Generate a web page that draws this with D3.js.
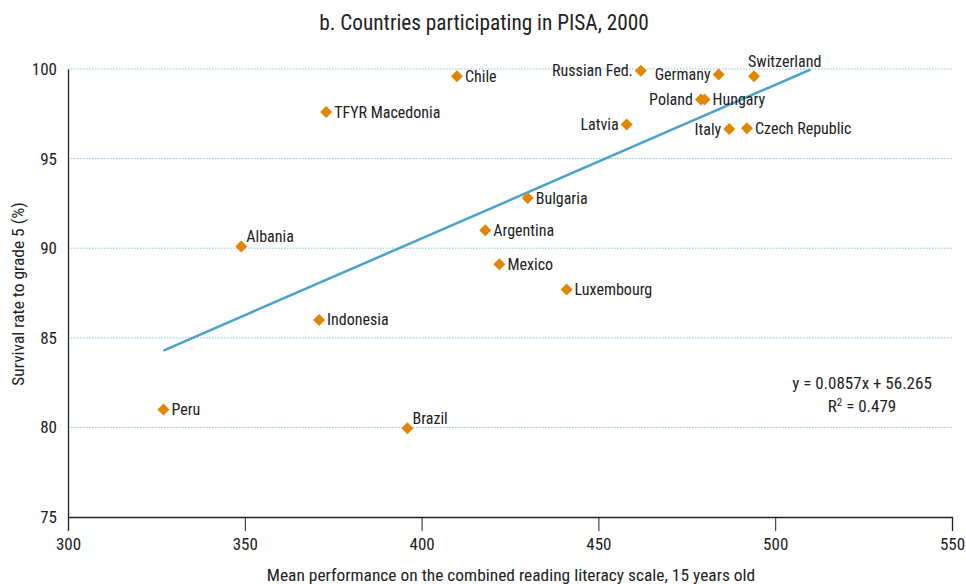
<!DOCTYPE html>
<html><head><meta charset="utf-8">
<script src="https://cdn.jsdelivr.net/npm/d3@7"></script>
<style>
body{margin:0;background:#fff;}
text{font-family:"Roboto Condensed","Roboto",sans-serif;font-stretch:condensed;fill:#222;}
</style></head><body>
<svg id="c" width="966" height="584"></svg>
<script>
const countries = ["Peru","Albania","Indonesia","TFYR Macedonia","Brazil","Chile","Argentina","Mexico","Bulgaria","Luxembourg","Latvia","Russian Fed.","Germany","Poland","Hungary","Italy","Czech Republic","Switzerland"];
const reading = [327,349,371,373,396,410,418,422,430,441,458,462,484,479,480,487,492,494];
const survival = [81.0,90.1,86.0,97.6,79.95,99.6,91.0,89.1,92.8,87.7,96.9,99.9,99.7,98.3,98.3,96.65,96.7,99.6];
const labelSide = ["r","tr","r","r","tr","r","r","r","r","r","l","l","l","l","r","l","r","t"];
const xTicks = [300,350,400,450,500,550];
const yTicks = [75,80,85,90,95,100];
const slope = 0.0857, intercept = 56.265, r2 = "0.479";
const trendX = [327,510];

const svg = d3.select("#c");
const W=966,H=584;
const m={l:68,r:14,t:69,b:67};
const x=d3.scaleLinear().domain([300,550]).range([m.l,W-m.r]);
const y=d3.scaleLinear().domain([75,100]).range([H-m.b,m.t]);

svg.append("g").selectAll("line").data(yTicks.filter(d=>d>75)).join("line")
 .attr("x1",x(300)).attr("x2",x(550)).attr("y1",d=>y(d)).attr("y2",d=>y(d))
 .attr("stroke","#8fbfd9").attr("stroke-width",1).attr("stroke-dasharray","1.5,1.5");

const xa=svg.append("g").attr("transform",`translate(0,${y(75)})`)
 .call(d3.axisBottom(x).tickValues(xTicks).tickSize(14).tickPadding(7));
xa.select(".domain").attr("stroke","#222").attr("stroke-width",1.3);
xa.selectAll(".tick line").attr("stroke","#222");
xa.selectAll("text").attr("font-size",17).attr("fill","#222");

const ya=svg.append("g").attr("transform",`translate(${x(300)},0)`)
 .call(d3.axisLeft(y).tickValues(yTicks).tickSize(0).tickPadding(11));
ya.select(".domain").attr("stroke","#222").attr("stroke-width",1.3);
ya.selectAll("text").attr("font-size",17).attr("fill","#222");

svg.append("line")
 .attr("x1",x(trendX[0])).attr("y1",y(slope*trendX[0]+intercept))
 .attr("x2",x(trendX[1])).attr("y2",y(slope*trendX[1]+intercept))
 .attr("stroke","#4ba3cc").attr("stroke-width",2.5);

const data=countries.map((c,i)=>({c,x:reading[i],y:survival[i],s:labelSide[i]}));
svg.append("g").selectAll("path").data(data).join("path")
 .attr("d",d3.symbol(d3.symbolSquare,72))
 .attr("transform",d=>`translate(${x(d.x)},${y(d.y)}) rotate(45)`)
 .attr("fill","#e08600");

svg.append("g").selectAll("text").data(data).join("text")
 .attr("font-size",16)
 .attr("x",d=>{const px=x(d.x); return d.s==="l"?px-8:d.s==="t"?px-6:d.s==="tr"?px+5:px+8;})
 .attr("y",d=>{const py=y(d.y); return d.s==="t"?py-9:d.s==="tr"?py-4:py+5.5;})
 .attr("text-anchor",d=>d.s==="l"?"end":"start")
 .text(d=>d.c);

svg.append("text").attr("x",484).attr("y",30).attr("text-anchor","middle").attr("font-size",21.3).text("b. Countries participating in PISA, 2000");
svg.append("text").attr("x",511).attr("y",581).attr("text-anchor","middle").attr("font-size",17.4).text("Mean performance on the combined reading literacy scale, 15 years old");
svg.append("text").attr("transform","translate(24,294) rotate(-90)").attr("text-anchor","middle").attr("font-size",17.4).text("Survival rate to grade 5 (%)");

const eq=svg.append("g");
eq.append("text").attr("x",862).attr("y",389).attr("text-anchor","middle").attr("font-size",17).text(`y = ${slope}x + ${intercept}`);
const r=eq.append("text").attr("x",862).attr("y",412).attr("text-anchor","middle").attr("font-size",17);
r.append("tspan").text("R");
r.append("tspan").attr("dy",-6).attr("font-size",11).text("2");
r.append("tspan").attr("dy",6).text(` = ${r2}`);
</script></body></html>
